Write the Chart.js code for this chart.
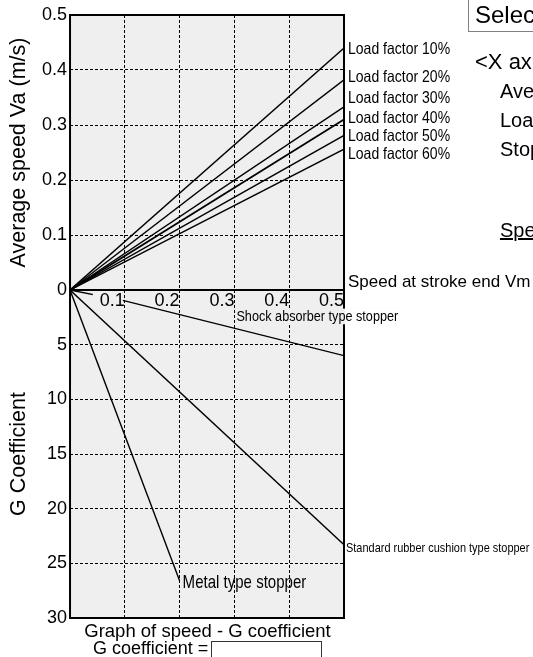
<!DOCTYPE html>
<html>
<head>
<meta charset="utf-8">
<title>Graph of speed - G coefficient</title>
<script src="https://cdn.jsdelivr.net/npm/chart.js@4.4.1/dist/chart.umd.min.js"></script>
<style>
  html, body { margin: 0; padding: 0; background: #fff; overflow: hidden; }
  body { width: 533px; height: 657px; position: relative; font-family: "Liberation Sans", Arial, sans-serif; color: #000; }
  #chart { position: absolute; left: 0; top: 0; }
  .txt { position: absolute; white-space: nowrap; }
  #select { position: absolute; left: 468px; top: -2px; width: 140px; height: 32px; border: 1px solid #808080; background: #fff; }
  #select span { position: absolute; left: 6px; top: 4px; font-size: 24px; line-height: 24px; white-space: nowrap; }
  #gbox { position: absolute; left: 211px; top: 641px; width: 109px; height: 30px; border: 1px solid #333; background: #fff; }
</style>
</head>
<body>
<canvas id="chart" width="533" height="657"></canvas>

<div id="select"><span>Select graph</span></div>
<div class="txt" style="left:475px; top:51px; font-size:22px; line-height:22px;">&lt;X axis&gt;</div>
<div class="txt" style="left:500px; top:81px; font-size:20px; line-height:20px;">Average speed</div>
<div class="txt" style="left:500px; top:110px; font-size:20px; line-height:20px;">Load factor</div>
<div class="txt" style="left:500px; top:139px; font-size:20px; line-height:20px;">Stopper type</div>
<div class="txt" style="left:500px; top:220px; font-size:20px; line-height:20px; text-decoration:underline;">Speed at stroke end</div>

<div class="txt" style="left:0; width:415px; text-align:center; top:622px; font-size:18.5px; line-height:18px;">Graph of speed - G coefficient</div>
<div class="txt" style="left:93px; top:639px; font-size:18px; line-height:18px;">G coefficient =</div>
<div id="gbox"></div>

<script>
// x axis: speed at stroke end Vm (m/s)
const xTicks = [0.1, 0.2, 0.3, 0.4, 0.5];
const vaTicks = [0, 0.1, 0.2, 0.3, 0.4, 0.5];
const gTicks = [0, 5, 10, 15, 20, 25, 30];

// average speed Va at Vm = 0.5, lines start at the origin
const loadNames = ["Load factor 10%", "Load factor 20%", "Load factor 30%", "Load factor 40%", "Load factor 50%", "Load factor 60%"];
const loadVm = [0, 0.5];
const loadVa = [0.44, 0.382, 0.333, 0.31, 0.281, 0.256];

// G coefficient per stopper type
const stopperNames = ["Shock absorber type stopper", "Standard rubber cushion type stopper", "Metal type stopper"];
const shockVm = [0, 0.1, 0.5];
const shockG = [0, 1, 6];
const rubberVm = [0, 0.5];
const rubberG = [0, 23.3];
const metalVm = [0, 0.2];
const metalG = [0, 26.6];

Chart.defaults.font.family = '"Liberation Sans", Arial, sans-serif';
Chart.defaults.color = '#000';

const PLOT_BG = '#efefef';
const NARROW = 0.85;

function line(label, xs, ys, axis, width) {
  return {
    label: label,
    yAxisID: axis,
    showLine: true,
    borderColor: '#000',
    borderWidth: width || 1.4,
    pointRadius: 0,
    data: xs.map((x, i) => ({ x: x, y: ys[i] }))
  };
}

const datasets = loadNames.map((n, i) => line(n, loadVm, [0, loadVa[i]], 'va', i === 3 ? 1.9 : 1.4));
datasets.push(line(stopperNames[0], shockVm, shockG, 'y'));
datasets.push(line(stopperNames[1], rubberVm, rubberG, 'y'));
datasets.push(line(stopperNames[2], metalVm, metalG, 'y'));

// condensed label text, optional background that hides grid / frame behind it
function narrowText(ctx, text, x, y, size, bg, area) {
  ctx.font = size + 'px "Liberation Sans", Arial, sans-serif';
  ctx.textBaseline = 'middle';
  ctx.textAlign = 'left';
  const w = ctx.measureText(text).width * NARROW;
  if (bg) {
    const top = y - size * 0.55, h = size * 1.05;
    ctx.fillStyle = PLOT_BG;
    ctx.fillRect(x - 1, top, w + 2, h);
    if (x + w + 1 > area.right) {
      ctx.fillStyle = '#fff';
      ctx.fillRect(area.right + 1, top, x + w + 2 - area.right, h);
    }
  }
  ctx.fillStyle = '#000';
  ctx.save();
  ctx.translate(x, y);
  ctx.scale(NARROW, 1);
  ctx.fillText(text, 0, 0);
  ctx.restore();
}

const plotFrame = {
  id: 'plotFrame',
  beforeDraw(chart) {
    const { ctx, chartArea: a } = chart;
    ctx.save();
    ctx.fillStyle = PLOT_BG;
    ctx.fillRect(a.left, a.top, a.width, a.height);
    ctx.restore();
  },
  afterDatasetsDraw(chart) {
    const { ctx, chartArea: a } = chart;
    ctx.save();
    ctx.strokeStyle = '#000';
    ctx.lineWidth = 2;
    ctx.strokeRect(a.left, a.top, a.width, a.height);
    ctx.restore();
  }
};

// nudges so the stacked load labels do not collide
const loadNudge = [1.5, -2, -8, -1.5, 1.5, 5];

const lineLabels = {
  id: 'lineLabels',
  afterDraw(chart) {
    const { ctx, chartArea: a, scales } = chart;
    const x = scales.x, va = scales.va, g = scales.y;
    ctx.save();
    loadNames.forEach((n, i) => {
      narrowText(ctx, n, a.right + 4, va.getPixelForValue(loadVa[i]) + loadNudge[i], 16.5);
    });
    ctx.font = '17px "Liberation Sans", Arial, sans-serif';
    ctx.textBaseline = 'alphabetic';
    ctx.fillStyle = '#000';
    ctx.fillText('Speed at stroke end Vm', a.right + 4, va.getPixelForValue(0) - 3);
    narrowText(ctx, stopperNames[0], x.getPixelForValue(0.3) + 2, g.getPixelForValue(2.45), 14.9, true, a);
    narrowText(ctx, stopperNames[1], a.right + 2, g.getPixelForValue(rubberG[1]) + 4, 12.9);
    narrowText(ctx, stopperNames[2], x.getPixelForValue(metalVm[1]) + 3, g.getPixelForValue(metalG[1]) + 2.5, 17.7);
    ctx.restore();
  }
};

const tickFont = { size: 18 };
const titleFont = { size: 21.5, lineHeight: 1 };

new Chart(document.getElementById('chart'), {
  type: 'scatter',
  data: { datasets: datasets },
  plugins: [plotFrame, lineLabels],
  options: {
    responsive: false,
    animation: false,
    events: [],
    layout: { padding: { left: 8, top: 15, right: 189, bottom: 39 } },
    plugins: { legend: { display: false }, tooltip: { enabled: false } },
    scales: {
      x: {
        type: 'linear',
        min: 0,
        max: 0.5,
        position: { y: 0 },
        afterBuildTicks: s => { s.ticks = xTicks.map(v => ({ value: v })); },
        grid: { color: '#000', lineWidth: 1, drawTicks: false },
        border: { display: true, color: '#000', width: 2, dash: [3, 2], z: 2 },
        ticks: {
          z: 1, padding: 0, font: tickFont, align: 'end', maxRotation: 0, autoSkip: false,
          callback: v => String(v),
          showLabelBackdrop: true,
          backdropColor: PLOT_BG,
          backdropPadding: { top: -2, left: 7, right: -2, bottom: -6 }
        }
      },
      va: {
        type: 'linear',
        position: 'left',
        stack: 'v',
        stackWeight: 275,
        weight: 2,
        min: 0,
        max: 0.5,
        afterBuildTicks: s => { s.ticks = vaTicks.map(v => ({ value: v })); },
        grid: { color: '#000', lineWidth: 1, drawTicks: false },
        border: { display: false, dash: [3, 2] },
        ticks: { padding: 3, font: tickFont, callback: v => String(v) },
        title: { display: true, text: 'Average speed Va (m/s)', font: titleFont, padding: { top: 0, bottom: 9.5 } }
      },
      y: {
        type: 'linear',
        position: 'left',
        stack: 'v',
        stackWeight: 328,
        weight: 1,
        reverse: true,
        min: 0,
        max: 30,
        afterBuildTicks: s => { s.ticks = gTicks.map(v => ({ value: v })); },
        grid: { color: '#000', lineWidth: 1, drawTicks: false },
        border: { display: false, dash: [3, 2] },
        ticks: { padding: 3, font: tickFont, callback: v => (v === 0 ? '' : String(v)) },
        title: { display: true, text: 'G Coefficient', font: titleFont, padding: { top: 0, bottom: 9.5 } }
      }
    }
  }
});
</script>
</body>
</html>
